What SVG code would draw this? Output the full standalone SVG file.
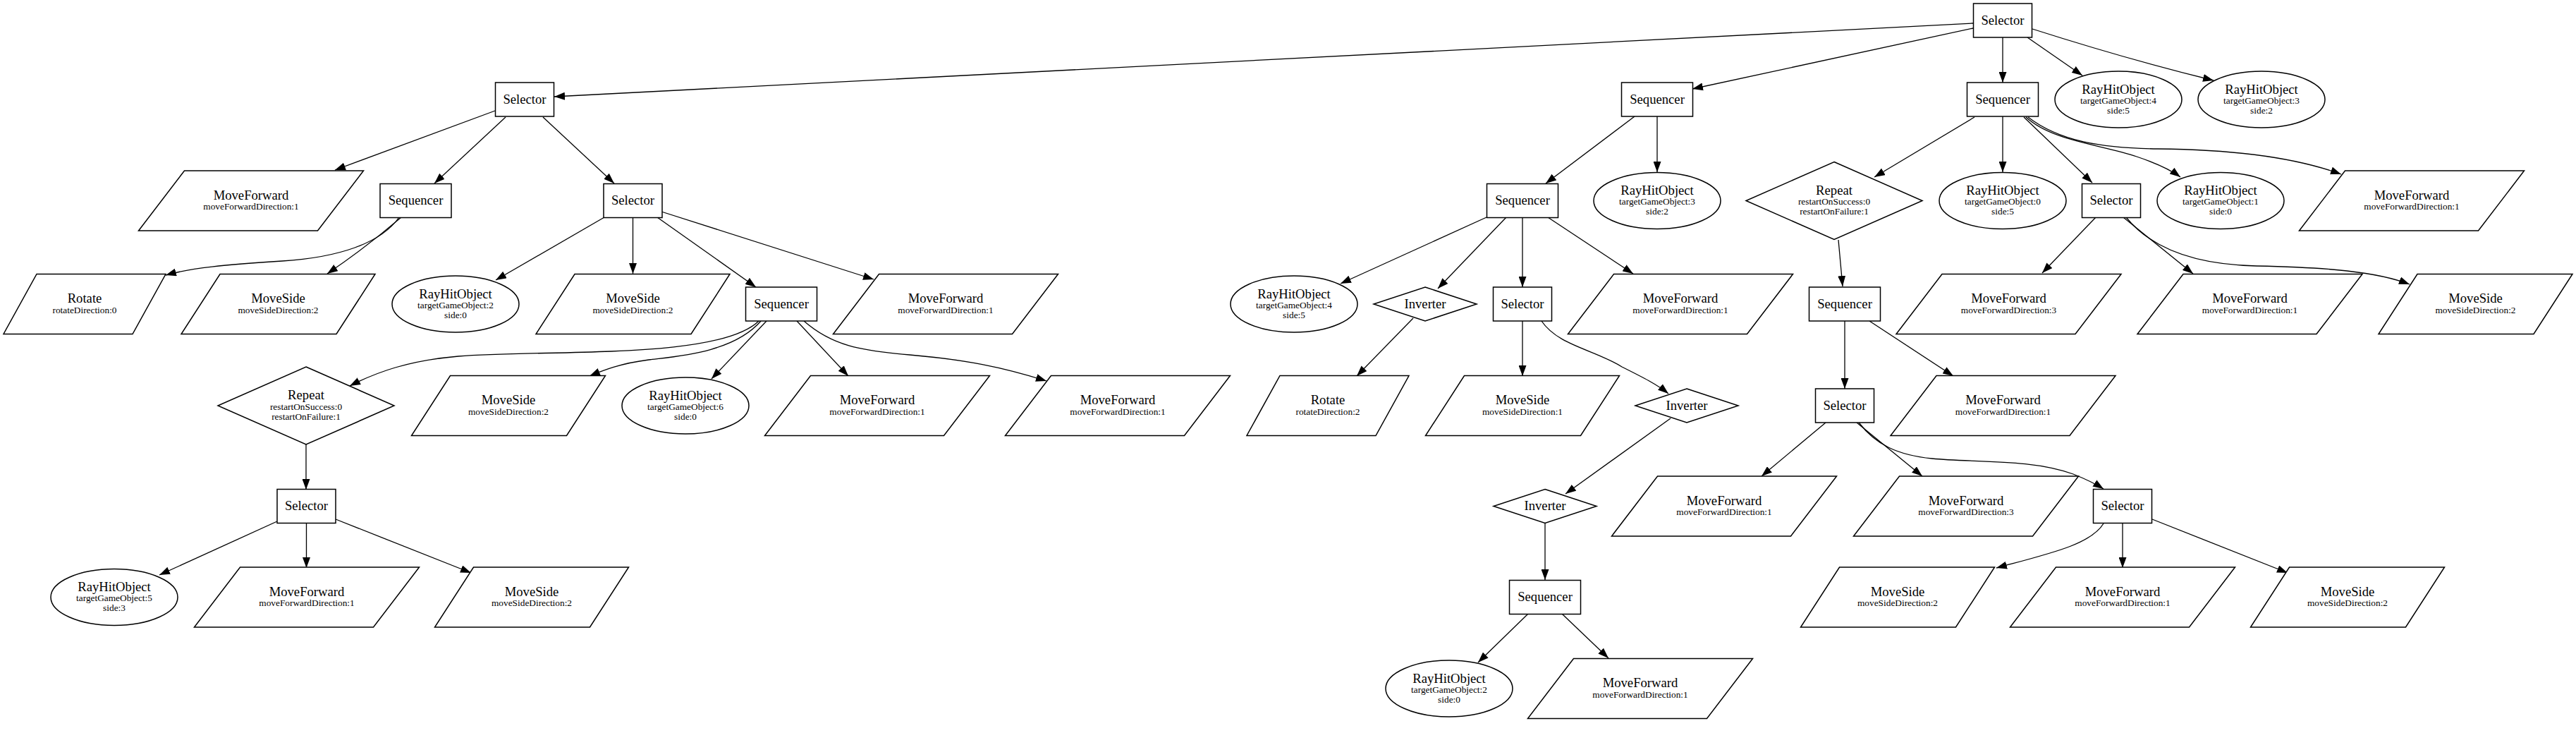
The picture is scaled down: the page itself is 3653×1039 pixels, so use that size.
<svg xmlns="http://www.w3.org/2000/svg" xmlns:xlink="http://www.w3.org/1999/xlink" width="3653" height="1039" viewBox="0 0 3653 1039">
<style>
.s{fill:#fff;stroke:#000;stroke-width:1.5}
.e{fill:none;stroke:#000;stroke-width:1.3;marker-end:url(#a)}
text{font-family:"Liberation Serif","Times New Roman",serif;text-anchor:middle;fill:#000}
.m{font-size:18.67px}
.t{font-size:13.33px}
</style>
<defs>
<marker id="a" markerUnits="userSpaceOnUse" markerWidth="15" markerHeight="11" viewBox="0 0 15 11" refX="15" refY="5.5" orient="auto"><path d="M0,0L15,5.5L0,11z" fill="#000"/></marker>
<rect id="bSel" class="s" x="-41.5" y="-24" width="83" height="48"/>
<rect id="bSeq" class="s" x="-50.5" y="-24" width="101" height="48"/>
<ellipse id="el" class="s" rx="90" ry="40"/>
<polygon id="pMF" class="s" points="-94.5,-42.5 159.5,-42.5 94.5,42.5 -159.5,42.5"/>
<polygon id="pMS" class="s" points="-82.5,-42.5 137.5,-42.5 82.5,42.5 -137.5,42.5"/>
<polygon id="pRo" class="s" points="-68,-42.5 115,-42.5 68,42.5 -115,42.5"/>
<polygon id="dRe" class="s" points="0,-55 125,0 0,55 -125,0"/>
<polygon id="dIn" class="s" points="0,-24 73,0 0,24 -73,0"/>
</defs>
<rect width="3653" height="1039" fill="#fff"/>
<g id="edges">
<path class="e" d="M2798,33L786,137"/>
<path class="e" d="M2798,40L2400,126"/>
<path class="e" d="M2840,53L2840,117"/>
<path class="e" d="M2875,53L2953,107"/>
<path class="e" d="M2882,41Q3020,85 3139,114"/>
<path class="e" d="M702,157L475,241"/>
<path class="e" d="M717,166L616,260"/>
<path class="e" d="M770,166L871,260"/>
<path class="e" d="M566,308C540,345 480,365 400,370C320,375 270,380 235,390"/>
<path class="e" d="M569,308Q520,350 464,388"/>
<path class="e" d="M857,308L703,397"/>
<path class="e" d="M897.5,308L897.5,388"/>
<path class="e" d="M932,308L1072,407"/>
<path class="e" d="M938,300L1239,396"/>
<path class="e" d="M1076,455C1020,510 780,495 650,505C580,511 535,527 496,547"/>
<path class="e" d="M1079,455C1040,500 960,505 920,510C880,515 855,525 836,533"/>
<path class="e" d="M1087,455L1009,537"/>
<path class="e" d="M1130,455L1203,533"/>
<path class="e" d="M1140,455C1180,490 1220,497 1290,503C1370,510 1420,520 1484,540"/>
<path class="e" d="M434,630L434,694"/>
<path class="e" d="M393,739L226,815"/>
<path class="e" d="M434.5,741L434.5,805"/>
<path class="e" d="M476,736L668,812"/>
<path class="e" d="M2318,165L2192,260"/>
<path class="e" d="M2350,165L2350,244"/>
<path class="e" d="M2108,308L1901,402"/>
<path class="e" d="M2136,308L2039,409"/>
<path class="e" d="M2159,308L2159,407"/>
<path class="e" d="M2195,308L2316,388"/>
<path class="e" d="M2004,451L1924,533"/>
<path class="e" d="M2159,455L2159,533"/>
<path class="e" d="M2186,455C2210,490 2260,495 2300,520C2330,535 2350,545 2366,558"/>
<path class="e" d="M2369,593L2220,700"/>
<path class="e" d="M2191,741L2191,822"/>
<path class="e" d="M2167,870L2096,939"/>
<path class="e" d="M2215,870L2281,933"/>
<path class="e" d="M2800,166L2658,251"/>
<path class="e" d="M2840,165L2840,244"/>
<path class="e" d="M2870,166L2967,259"/>
<path class="e" d="M2873,166C2910,200 2980,205 3030,222C3060,232 3080,242 3092,251"/>
<path class="e" d="M2876,166C2920,200 2980,210 3060,211C3180,212 3260,225 3320,247"/>
<path class="e" d="M2607,340L2613,406"/>
<path class="e" d="M2972,308L2896,387"/>
<path class="e" d="M3011,308L3110,388"/>
<path class="e" d="M3015,308C3045,345 3100,375 3200,377C3300,379 3370,385 3417,403"/>
<path class="e" d="M2616,455L2616,551"/>
<path class="e" d="M2651,455L2770,533"/>
<path class="e" d="M2589,599L2498,675"/>
<path class="e" d="M2633,599L2726,675"/>
<path class="e" d="M2636,599C2660,630 2690,645 2740,650C2800,656 2880,650 2940,672C2960,680 2972,686 2983,693"/>
<path class="e" d="M2983,742C2965,772 2905,785 2831,805"/>
<path class="e" d="M3010,741L3010,805"/>
<path class="e" d="M3052,736L3244,812"/>
</g>
<g id="n1" transform="translate(2840,29)"><use xlink:href="#bSel"/><text class="m" y="5.5">Selector</text></g>
<g id="n2" transform="translate(744,141)"><use xlink:href="#bSel"/><text class="m" y="5.5">Selector</text></g>
<g id="n3" transform="translate(2350,141)"><use xlink:href="#bSeq"/><text class="m" y="5.5">Sequencer</text></g>
<g id="n4" transform="translate(2840,141)"><use xlink:href="#bSeq"/><text class="m" y="5.5">Sequencer</text></g>
<g id="n5" transform="translate(3004,141)"><use xlink:href="#el"/><text class="m" y="-8.5">RayHitObject</text><text class="t" y="5.5">targetGameObject:4</text><text class="t" y="19.5">side:5</text></g>
<g id="n6" transform="translate(3207,141)"><use xlink:href="#el"/><text class="m" y="-8.5">RayHitObject</text><text class="t" y="5.5">targetGameObject:3</text><text class="t" y="19.5">side:2</text></g>
<g id="n7" transform="translate(356,284.5)"><use xlink:href="#pMF"/><text class="m" y="-2">MoveForward</text><text class="t" y="12.5">moveForwardDirection:1</text></g>
<g id="n8" transform="translate(589.5,284.5)"><use xlink:href="#bSeq"/><text class="m" y="5.5">Sequencer</text></g>
<g id="n9" transform="translate(897.5,284.5)"><use xlink:href="#bSel"/><text class="m" y="5.5">Selector</text></g>
<g id="n10" transform="translate(2159,284.5)"><use xlink:href="#bSeq"/><text class="m" y="5.5">Sequencer</text></g>
<g id="n11" transform="translate(2350,284.5)"><use xlink:href="#el"/><text class="m" y="-8.5">RayHitObject</text><text class="t" y="5.5">targetGameObject:3</text><text class="t" y="19.5">side:2</text></g>
<g id="n12" transform="translate(2601,284.5)"><use xlink:href="#dRe"/><text class="m" y="-9">Repeat</text><text class="t" y="5.5">restartOnSuccess:0</text><text class="t" y="19.5">restartOnFailure:1</text></g>
<g id="n13" transform="translate(2840,284.5)"><use xlink:href="#el"/><text class="m" y="-8.5">RayHitObject</text><text class="t" y="5.5">targetGameObject:0</text><text class="t" y="19.5">side:5</text></g>
<g id="n14" transform="translate(2994,284.5)"><use xlink:href="#bSel"/><text class="m" y="5.5">Selector</text></g>
<g id="n15" transform="translate(3149,284.5)"><use xlink:href="#el"/><text class="m" y="-8.5">RayHitObject</text><text class="t" y="5.5">targetGameObject:1</text><text class="t" y="19.5">side:0</text></g>
<g id="n16" transform="translate(3420,284.5)"><use xlink:href="#pMF"/><text class="m" y="-2">MoveForward</text><text class="t" y="12.5">moveForwardDirection:1</text></g>
<g id="n17" transform="translate(120,431)"><use xlink:href="#pRo"/><text class="m" y="-2">Rotate</text><text class="t" y="12.5">rotateDirection:0</text></g>
<g id="n18" transform="translate(394.5,431)"><use xlink:href="#pMS"/><text class="m" y="-2">MoveSide</text><text class="t" y="12.5">moveSideDirection:2</text></g>
<g id="n19" transform="translate(646,431)"><use xlink:href="#el"/><text class="m" y="-8.5">RayHitObject</text><text class="t" y="5.5">targetGameObject:2</text><text class="t" y="19.5">side:0</text></g>
<g id="n20" transform="translate(897.5,431)"><use xlink:href="#pMS"/><text class="m" y="-2">MoveSide</text><text class="t" y="12.5">moveSideDirection:2</text></g>
<g id="n21" transform="translate(1108,431)"><use xlink:href="#bSeq"/><text class="m" y="5.5">Sequencer</text></g>
<g id="n22" transform="translate(1341,431)"><use xlink:href="#pMF"/><text class="m" y="-2">MoveForward</text><text class="t" y="12.5">moveForwardDirection:1</text></g>
<g id="n23" transform="translate(1835,431)"><use xlink:href="#el"/><text class="m" y="-8.5">RayHitObject</text><text class="t" y="5.5">targetGameObject:4</text><text class="t" y="19.5">side:5</text></g>
<g id="n24" transform="translate(2021,431)"><use xlink:href="#dIn"/><text class="m" y="5.5">Inverter</text></g>
<g id="n25" transform="translate(2159,431)"><use xlink:href="#bSel"/><text class="m" y="5.5">Selector</text></g>
<g id="n26" transform="translate(2383,431)"><use xlink:href="#pMF"/><text class="m" y="-2">MoveForward</text><text class="t" y="12.5">moveForwardDirection:1</text></g>
<g id="n27" transform="translate(2616,431)"><use xlink:href="#bSeq"/><text class="m" y="5.5">Sequencer</text></g>
<g id="n28" transform="translate(2848.5,431)"><use xlink:href="#pMF"/><text class="m" y="-2">MoveForward</text><text class="t" y="12.5">moveForwardDirection:3</text></g>
<g id="n29" transform="translate(3190.5,431)"><use xlink:href="#pMF"/><text class="m" y="-2">MoveForward</text><text class="t" y="12.5">moveForwardDirection:1</text></g>
<g id="n30" transform="translate(3510.5,431)"><use xlink:href="#pMS"/><text class="m" y="-2">MoveSide</text><text class="t" y="12.5">moveSideDirection:2</text></g>
<g id="n31" transform="translate(434,575)"><use xlink:href="#dRe"/><text class="m" y="-9">Repeat</text><text class="t" y="5.5">restartOnSuccess:0</text><text class="t" y="19.5">restartOnFailure:1</text></g>
<g id="n32" transform="translate(721,575)"><use xlink:href="#pMS"/><text class="m" y="-2">MoveSide</text><text class="t" y="12.5">moveSideDirection:2</text></g>
<g id="n33" transform="translate(972,575)"><use xlink:href="#el"/><text class="m" y="-8.5">RayHitObject</text><text class="t" y="5.5">targetGameObject:6</text><text class="t" y="19.5">side:0</text></g>
<g id="n34" transform="translate(1244,575)"><use xlink:href="#pMF"/><text class="m" y="-2">MoveForward</text><text class="t" y="12.5">moveForwardDirection:1</text></g>
<g id="n35" transform="translate(1585,575)"><use xlink:href="#pMF"/><text class="m" y="-2">MoveForward</text><text class="t" y="12.5">moveForwardDirection:1</text></g>
<g id="n36" transform="translate(1883,575)"><use xlink:href="#pRo"/><text class="m" y="-2">Rotate</text><text class="t" y="12.5">rotateDirection:2</text></g>
<g id="n37" transform="translate(2159,575)"><use xlink:href="#pMS"/><text class="m" y="-2">MoveSide</text><text class="t" y="12.5">moveSideDirection:1</text></g>
<g id="n38" transform="translate(2392,575)"><use xlink:href="#dIn"/><text class="m" y="5.5">Inverter</text></g>
<g id="n39" transform="translate(2616,575)"><use xlink:href="#bSel"/><text class="m" y="5.5">Selector</text></g>
<g id="n40" transform="translate(2840.5,575)"><use xlink:href="#pMF"/><text class="m" y="-2">MoveForward</text><text class="t" y="12.5">moveForwardDirection:1</text></g>
<g id="n41" transform="translate(434.5,717.5)"><use xlink:href="#bSel"/><text class="m" y="5.5">Selector</text></g>
<g id="n42" transform="translate(2191,717.5)"><use xlink:href="#dIn"/><text class="m" y="5.5">Inverter</text></g>
<g id="n43" transform="translate(2445,717.5)"><use xlink:href="#pMF"/><text class="m" y="-2">MoveForward</text><text class="t" y="12.5">moveForwardDirection:1</text></g>
<g id="n44" transform="translate(2788,717.5)"><use xlink:href="#pMF"/><text class="m" y="-2">MoveForward</text><text class="t" y="12.5">moveForwardDirection:3</text></g>
<g id="n45" transform="translate(3010,717.5)"><use xlink:href="#bSel"/><text class="m" y="5.5">Selector</text></g>
<g id="n46" transform="translate(162,846.5)"><use xlink:href="#el"/><text class="m" y="-8.5">RayHitObject</text><text class="t" y="5.5">targetGameObject:5</text><text class="t" y="19.5">side:3</text></g>
<g id="n47" transform="translate(435,846.5)"><use xlink:href="#pMF"/><text class="m" y="-2">MoveForward</text><text class="t" y="12.5">moveForwardDirection:1</text></g>
<g id="n48" transform="translate(754,846.5)"><use xlink:href="#pMS"/><text class="m" y="-2">MoveSide</text><text class="t" y="12.5">moveSideDirection:2</text></g>
<g id="n49" transform="translate(2191,846.5)"><use xlink:href="#bSeq"/><text class="m" y="5.5">Sequencer</text></g>
<g id="n50" transform="translate(2691,846.5)"><use xlink:href="#pMS"/><text class="m" y="-2">MoveSide</text><text class="t" y="12.5">moveSideDirection:2</text></g>
<g id="n51" transform="translate(3010,846.5)"><use xlink:href="#pMF"/><text class="m" y="-2">MoveForward</text><text class="t" y="12.5">moveForwardDirection:1</text></g>
<g id="n52" transform="translate(3329,846.5)"><use xlink:href="#pMS"/><text class="m" y="-2">MoveSide</text><text class="t" y="12.5">moveSideDirection:2</text></g>
<g id="n53" transform="translate(2055,976)"><use xlink:href="#el"/><text class="m" y="-8.5">RayHitObject</text><text class="t" y="5.5">targetGameObject:2</text><text class="t" y="19.5">side:0</text></g>
<g id="n54" transform="translate(2326,976)"><use xlink:href="#pMF"/><text class="m" y="-2">MoveForward</text><text class="t" y="12.5">moveForwardDirection:1</text></g>
</svg>
